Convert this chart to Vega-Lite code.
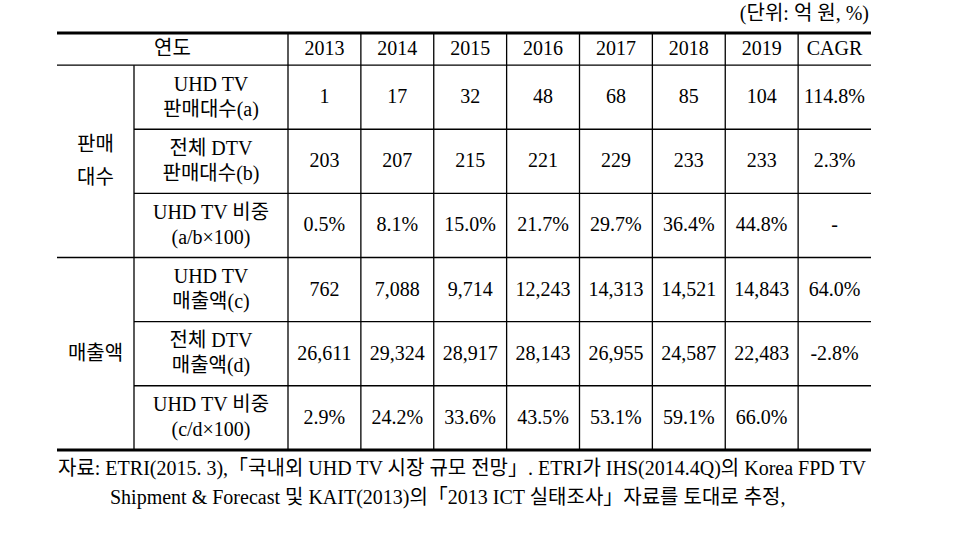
{
  "$schema": "https://vega.github.io/schema/vega-lite/v6.json",
  "width": 954,
  "height": 537,
  "autosize": {"type": "none"},
  "padding": 0,
  "background": "white",
  "config": {"view": {"stroke": null}, "text": {"font": "Liberation Serif, Noto Sans CJK KR", "color": "#000"}},
  "datasets": {
    "columns": [{"col": "2013"}, {"col": "2014"}, {"col": "2015"}, {"col": "2016"}, {"col": "2017"}, {"col": "2018"}, {"col": "2019"}, {"col": "CAGR"}],
    "groups": [
      {"group": "판매대수", "label": "판매\n대수", "mid": "전체 DTV 판매대수(b)"},
      {"group": "매출액", "label": "매출액", "mid": "전체 DTV 매출액(d)"}
    ],
    "items": [
      {"group": "판매대수", "item": "UHD TV 판매대수(a)", "label": "UHD TV\n판매대수(a)", "first": true},
      {"group": "판매대수", "item": "전체 DTV 판매대수(b)", "label": "전체 DTV\n판매대수(b)", "first": false},
      {"group": "판매대수", "item": "UHD TV 비중(a/b)", "label": "UHD TV 비중\n(a/b×100)", "first": false},
      {"group": "매출액", "item": "UHD TV 매출액(c)", "label": "UHD TV\n매출액(c)", "first": true},
      {"group": "매출액", "item": "전체 DTV 매출액(d)", "label": "전체 DTV\n매출액(d)", "first": false},
      {"group": "매출액", "item": "UHD TV 비중(c/d)", "label": "UHD TV 비중\n(c/d×100)", "first": false}
    ],
    "values": [
      {"item": "UHD TV 판매대수(a)", "year": "2013", "value": "1"},
      {"item": "UHD TV 판매대수(a)", "year": "2014", "value": "17"},
      {"item": "UHD TV 판매대수(a)", "year": "2015", "value": "32"},
      {"item": "UHD TV 판매대수(a)", "year": "2016", "value": "48"},
      {"item": "UHD TV 판매대수(a)", "year": "2017", "value": "68"},
      {"item": "UHD TV 판매대수(a)", "year": "2018", "value": "85"},
      {"item": "UHD TV 판매대수(a)", "year": "2019", "value": "104"},
      {"item": "UHD TV 판매대수(a)", "year": "CAGR", "value": "114.8%"},
      {"item": "전체 DTV 판매대수(b)", "year": "2013", "value": "203"},
      {"item": "전체 DTV 판매대수(b)", "year": "2014", "value": "207"},
      {"item": "전체 DTV 판매대수(b)", "year": "2015", "value": "215"},
      {"item": "전체 DTV 판매대수(b)", "year": "2016", "value": "221"},
      {"item": "전체 DTV 판매대수(b)", "year": "2017", "value": "229"},
      {"item": "전체 DTV 판매대수(b)", "year": "2018", "value": "233"},
      {"item": "전체 DTV 판매대수(b)", "year": "2019", "value": "233"},
      {"item": "전체 DTV 판매대수(b)", "year": "CAGR", "value": "2.3%"},
      {"item": "UHD TV 비중(a/b)", "year": "2013", "value": "0.5%"},
      {"item": "UHD TV 비중(a/b)", "year": "2014", "value": "8.1%"},
      {"item": "UHD TV 비중(a/b)", "year": "2015", "value": "15.0%"},
      {"item": "UHD TV 비중(a/b)", "year": "2016", "value": "21.7%"},
      {"item": "UHD TV 비중(a/b)", "year": "2017", "value": "29.7%"},
      {"item": "UHD TV 비중(a/b)", "year": "2018", "value": "36.4%"},
      {"item": "UHD TV 비중(a/b)", "year": "2019", "value": "44.8%"},
      {"item": "UHD TV 비중(a/b)", "year": "CAGR", "value": "-"},
      {"item": "UHD TV 매출액(c)", "year": "2013", "value": "762"},
      {"item": "UHD TV 매출액(c)", "year": "2014", "value": "7,088"},
      {"item": "UHD TV 매출액(c)", "year": "2015", "value": "9,714"},
      {"item": "UHD TV 매출액(c)", "year": "2016", "value": "12,243"},
      {"item": "UHD TV 매출액(c)", "year": "2017", "value": "14,313"},
      {"item": "UHD TV 매출액(c)", "year": "2018", "value": "14,521"},
      {"item": "UHD TV 매출액(c)", "year": "2019", "value": "14,843"},
      {"item": "UHD TV 매출액(c)", "year": "CAGR", "value": "64.0%"},
      {"item": "전체 DTV 매출액(d)", "year": "2013", "value": "26,611"},
      {"item": "전체 DTV 매출액(d)", "year": "2014", "value": "29,324"},
      {"item": "전체 DTV 매출액(d)", "year": "2015", "value": "28,917"},
      {"item": "전체 DTV 매출액(d)", "year": "2016", "value": "28,143"},
      {"item": "전체 DTV 매출액(d)", "year": "2017", "value": "26,955"},
      {"item": "전체 DTV 매출액(d)", "year": "2018", "value": "24,587"},
      {"item": "전체 DTV 매출액(d)", "year": "2019", "value": "22,483"},
      {"item": "전체 DTV 매출액(d)", "year": "CAGR", "value": "-2.8%"},
      {"item": "UHD TV 비중(c/d)", "year": "2013", "value": "2.9%"},
      {"item": "UHD TV 비중(c/d)", "year": "2014", "value": "24.2%"},
      {"item": "UHD TV 비중(c/d)", "year": "2015", "value": "33.6%"},
      {"item": "UHD TV 비중(c/d)", "year": "2016", "value": "43.5%"},
      {"item": "UHD TV 비중(c/d)", "year": "2017", "value": "53.1%"},
      {"item": "UHD TV 비중(c/d)", "year": "2018", "value": "59.1%"},
      {"item": "UHD TV 비중(c/d)", "year": "2019", "value": "66.0%"},
      {"item": "UHD TV 비중(c/d)", "year": "CAGR", "value": ""}
    ],
    "notes": [
      {"line": "자료1", "text": "자료: ETRI(2015. 3),「국내외 UHD TV 시장 규모 전망」. ETRI가 IHS(2014.4Q)의 Korea FPD TV"},
      {"line": "자료2", "text": "Shipment & Forecast 및 KAIT(2013)의「2013 ICT 실태조사」자료를 토대로 추정,"}
    ],
    "edges": [{"edge": "연도"}, {"edge": "자료1"}],
    "unit": [{"text": "(단위: 억 원, %)"}],
    "header": [{"text": "연도"}],
    "one": [{"k": 1}]
  },
  "resolve": {"scale": {"x": "independent"}},
  "layer": [
    {
      "data": {"name": "unit"},
      "mark": {"type": "text", "align": "right", "baseline": "middle", "fontSize": 20, "dx": -2},
      "encoding": {
        "x": {"datum": "CAGR", "type": "nominal", "bandPosition": 1, "axis": null, "scale": {"type": "band", "domain": ["2013", "2014", "2015", "2016", "2017", "2018", "2019", "CAGR"], "range": [288, 871], "paddingInner": 0, "paddingOuter": 0}},
        "y": {"datum": "단위", "type": "nominal", "bandPosition": 0.42, "axis": null, "scale": {"type": "band", "domain": ["단위", "연도", "UHD TV 판매대수(a)", "UHD TV 판매대수(a)/2", "전체 DTV 판매대수(b)", "전체 DTV 판매대수(b)/2", "UHD TV 비중(a/b)", "UHD TV 비중(a/b)/2", "UHD TV 매출액(c)", "UHD TV 매출액(c)/2", "전체 DTV 매출액(d)", "전체 DTV 매출액(d)/2", "UHD TV 비중(c/d)", "UHD TV 비중(c/d)/2", "자료1", "자료2"], "range": [1, 514], "paddingInner": 0, "paddingOuter": 0}},
        "text": {"field": "text"}
      }
    },
    {
      "data": {"name": "header"},
      "mark": {"type": "text", "align": "center", "baseline": "middle", "fontSize": 20},
      "encoding": {
        "x": {"datum": "항목", "type": "nominal", "bandPosition": 0.5, "axis": null, "scale": {"type": "band", "domain": ["구분", "항목", "항목_"], "range": [57, 288], "paddingInner": 0, "paddingOuter": 0}},
        "y": {"datum": "연도", "type": "nominal", "bandPosition": 0.5, "axis": null},
        "text": {"field": "text"}
      }
    },
    {
      "data": {"name": "columns"},
      "mark": {"type": "text", "align": "center", "baseline": "middle", "fontSize": 20},
      "encoding": {
        "x": {"field": "col", "type": "nominal", "bandPosition": 0.5, "axis": null, "scale": {"type": "band", "domain": ["2013", "2014", "2015", "2016", "2017", "2018", "2019", "CAGR"], "range": [288, 871], "paddingInner": 0, "paddingOuter": 0}},
        "y": {"datum": "연도", "type": "nominal", "bandPosition": 0.5, "axis": null},
        "text": {"field": "col"}
      }
    },
    {
      "data": {"name": "groups"},
      "transform": [{"filter": "datum.group === '판매대수'"}],
      "mark": {"type": "text", "align": "center", "baseline": "middle", "fontSize": 20, "lineBreak": "\n", "lineHeight": 33, "dy": -16.5},
      "encoding": {
        "x": {"datum": "구분", "type": "nominal", "bandPosition": 0.5, "axis": null, "scale": {"type": "band", "domain": ["구분", "항목", "항목_"], "range": [57, 288], "paddingInner": 0, "paddingOuter": 0}},
        "y": {"field": "mid", "type": "nominal", "bandPosition": 1, "axis": null},
        "text": {"field": "label"}
      }
    },
    {
      "data": {"name": "groups"},
      "transform": [{"filter": "datum.group === '매출액'"}],
      "mark": {"type": "text", "align": "center", "baseline": "middle", "fontSize": 20},
      "encoding": {
        "x": {"datum": "구분", "type": "nominal", "bandPosition": 0.5, "axis": null, "scale": {"type": "band", "domain": ["구분", "항목", "항목_"], "range": [57, 288], "paddingInner": 0, "paddingOuter": 0}},
        "y": {"field": "mid", "type": "nominal", "bandPosition": 1, "axis": null},
        "text": {"field": "label"}
      }
    },
    {
      "data": {"name": "items"},
      "mark": {"type": "text", "align": "center", "baseline": "middle", "fontSize": 20, "lineBreak": "\n", "lineHeight": 25, "dy": -12.5},
      "encoding": {
        "x": {"datum": "항목", "type": "nominal", "bandPosition": 1, "axis": null, "scale": {"type": "band", "domain": ["구분", "항목", "항목_"], "range": [57, 288], "paddingInner": 0, "paddingOuter": 0}},
        "y": {"field": "item", "type": "nominal", "bandPosition": 1, "axis": null},
        "text": {"field": "label"}
      }
    },
    {
      "data": {"name": "values"},
      "mark": {"type": "text", "align": "center", "baseline": "middle", "fontSize": 20},
      "encoding": {
        "x": {"field": "year", "type": "nominal", "bandPosition": 0.5, "axis": null, "scale": {"type": "band", "domain": ["2013", "2014", "2015", "2016", "2017", "2018", "2019", "CAGR"], "range": [288, 871], "paddingInner": 0, "paddingOuter": 0}},
        "y": {"field": "item", "type": "nominal", "bandPosition": 1, "axis": null},
        "text": {"field": "value"}
      }
    },
    {
      "data": {"name": "notes"},
      "transform": [{"filter": "datum.line === '자료1'"}],
      "mark": {"type": "text", "align": "left", "baseline": "middle", "fontSize": 20, "dx": 1},
      "encoding": {
        "x": {"datum": "구분", "type": "nominal", "bandPosition": 0, "axis": null, "scale": {"type": "band", "domain": ["구분", "항목", "항목_"], "range": [57, 288], "paddingInner": 0, "paddingOuter": 0}},
        "y": {"field": "line", "type": "nominal", "bandPosition": 0.6, "axis": null},
        "text": {"field": "text"}
      }
    },
    {
      "data": {"name": "notes"},
      "transform": [{"filter": "datum.line === '자료2'"}],
      "mark": {"type": "text", "align": "left", "baseline": "middle", "fontSize": 20, "dx": 53},
      "encoding": {
        "x": {"datum": "구분", "type": "nominal", "bandPosition": 0, "axis": null, "scale": {"type": "band", "domain": ["구분", "항목", "항목_"], "range": [57, 288], "paddingInner": 0, "paddingOuter": 0}},
        "y": {"field": "line", "type": "nominal", "bandPosition": 0.5, "axis": null},
        "text": {"field": "text"}
      }
    },
    {
      "data": {"name": "items"},
      "transform": [{"filter": "datum.first"}],
      "mark": {"type": "rule", "color": "#000", "strokeWidth": 1.3},
      "encoding": {
        "x": {"datum": "표", "type": "nominal", "bandPosition": 0, "axis": null, "scale": {"type": "band", "domain": ["표"], "range": [57, 871], "paddingInner": 0, "paddingOuter": 0}},
        "x2": {"datum": "표", "bandPosition": 1},
        "y": {"field": "item", "type": "nominal", "bandPosition": 0, "axis": null}
      }
    },
    {
      "data": {"name": "edges"},
      "mark": {"type": "rule", "color": "#000", "strokeWidth": 3},
      "encoding": {
        "x": {"datum": "표", "type": "nominal", "bandPosition": 0, "axis": null, "scale": {"type": "band", "domain": ["표"], "range": [57, 871], "paddingInner": 0, "paddingOuter": 0}},
        "x2": {"datum": "표", "bandPosition": 1},
        "y": {"field": "edge", "type": "nominal", "bandPosition": 0, "axis": null}
      }
    },
    {
      "data": {"name": "items"},
      "transform": [{"filter": "!datum.first"}],
      "mark": {"type": "rule", "color": "#000", "strokeWidth": 1.3},
      "encoding": {
        "x": {"datum": "항목", "type": "nominal", "bandPosition": 0, "axis": null, "scale": {"type": "band", "domain": ["구분", "항목", "항목_"], "range": [57, 288], "paddingInner": 0, "paddingOuter": 0}},
        "x2": {"datum": "항목_", "bandPosition": 1},
        "y": {"field": "item", "type": "nominal", "bandPosition": 0, "axis": null}
      }
    },
    {
      "data": {"name": "items"},
      "transform": [{"filter": "!datum.first"}],
      "mark": {"type": "rule", "color": "#000", "strokeWidth": 1.3},
      "encoding": {
        "x": {"datum": "2013", "type": "nominal", "bandPosition": 0, "axis": null, "scale": {"type": "band", "domain": ["2013", "2014", "2015", "2016", "2017", "2018", "2019", "CAGR"], "range": [288, 871], "paddingInner": 0, "paddingOuter": 0}},
        "x2": {"datum": "CAGR", "bandPosition": 1},
        "y": {"field": "item", "type": "nominal", "bandPosition": 0, "axis": null}
      }
    },
    {
      "data": {"name": "columns"},
      "mark": {"type": "rule", "color": "#000", "strokeWidth": 1.3},
      "encoding": {
        "x": {"field": "col", "type": "nominal", "bandPosition": 0, "axis": null, "scale": {"type": "band", "domain": ["2013", "2014", "2015", "2016", "2017", "2018", "2019", "CAGR"], "range": [288, 871], "paddingInner": 0, "paddingOuter": 0}},
        "y": {"datum": "연도", "type": "nominal", "bandPosition": 0, "axis": null},
        "y2": {"datum": "자료1", "bandPosition": 0}
      }
    },
    {
      "data": {"name": "one"},
      "mark": {"type": "rule", "color": "#000", "strokeWidth": 1.3},
      "encoding": {
        "x": {"datum": "항목", "type": "nominal", "bandPosition": 0, "axis": null, "scale": {"type": "band", "domain": ["구분", "항목", "항목_"], "range": [57, 288], "paddingInner": 0, "paddingOuter": 0}},
        "y": {"datum": "UHD TV 판매대수(a)", "type": "nominal", "bandPosition": 0, "axis": null},
        "y2": {"datum": "자료1", "bandPosition": 0}
      }
    }
  ]
}
